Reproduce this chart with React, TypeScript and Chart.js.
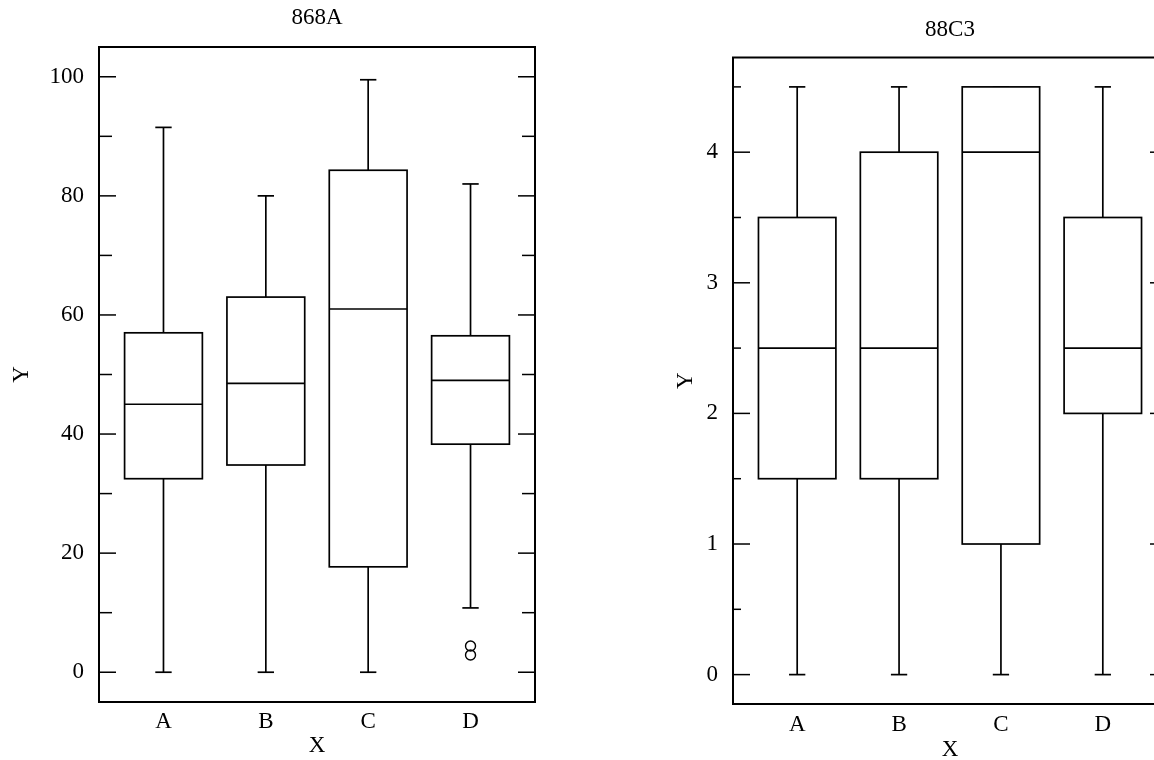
import React, { useEffect, useRef } from "react";
import { Chart, registerables } from "chart.js";

Chart.register(...registerables);

const categories = ["A", "B", "C", "D"];

// ---- Left panel: 868A ----
const title1 = "868A";
const mins1 = [0, 0, 0, 10.8];
const q1s1 = [32.5, 34.8, 17.7, 38.3];
const medians1 = [45, 48.5, 61, 49];
const q3s1 = [57, 63, 84.3, 56.5];
const maxs1 = [91.5, 80, 99.5, 82];
const outlierCats1 = ["D", "D"];
const outlierValues1 = [2.9, 4.4];
const yTicks1 = [0, 20, 40, 60, 80, 100];
const yMinor1 = [10, 30, 50, 70, 90];
const yRange1 = [-5, 105];

// ---- Right panel: 88C3 ----
const title2 = "88C3";
const mins2 = [0, 0, 0, 0];
const q1s2 = [1.5, 1.5, 1, 2];
const medians2 = [2.5, 2.5, 4, 2.5];
const q3s2 = [3.5, 4, 4.5, 3.5];
const maxs2 = [4.5, 4.5, 4.5, 4.5];
const outlierCats2: string[] = [];
const outlierValues2: number[] = [];
const yTicks2 = [0, 1, 2, 3, 4];
const yMinor2 = [0.5, 1.5, 2.5, 3.5, 4.5];
const yRange2 = [-0.225, 4.725];

const FONT = "'Liberation Serif', 'Times New Roman', serif";

type PanelCfg = {
  title: string;
  mins: number[];
  q1s: number[];
  meds: number[];
  q3s: number[];
  maxs: number[];
  outCats: string[];
  outVals: number[];
  yTicks: number[];
  yMinor: number[];
  yRange: number[];
  width: number;
  height: number;
  padTop: number;
  padRight: number;
  yAxisWidth: number;
  xAxisHeight: number;
  titleY: number;
  yTitlePad: number;
  xTitlePad: number;
  xTickPad: number;
  majorLen: number;
  minorLen: number;
};

function makePlugin(cfg: PanelCfg) {
  const boxHalf = 0.38;
  const capHalf = 0.08;
  const line = (ctx: CanvasRenderingContext2D, x1: number, y1: number, x2: number, y2: number) => {
    ctx.beginPath();
    ctx.moveTo(x1, y1);
    ctx.lineTo(x2, y2);
    ctx.stroke();
  };
  return {
    id: "boxplot",
    beforeDatasetsDraw(chart: any) {
      const { ctx } = chart;
      const x = chart.scales.x;
      const y = chart.scales.y;
      ctx.save();
      ctx.strokeStyle = "#000";
      ctx.lineWidth = 1.7;
      ctx.lineCap = "butt";
      cfg.q1s.forEach((q1, i) => {
        const cx = x.getPixelForValue(i + 1);
        const hw = x.getPixelForValue(i + 1 + boxHalf) - cx;
        const ch = x.getPixelForValue(i + 1 + capHalf) - cx;
        const pq1 = y.getPixelForValue(q1);
        const pq3 = y.getPixelForValue(cfg.q3s[i]);
        const pm = y.getPixelForValue(cfg.meds[i]);
        const pmin = y.getPixelForValue(cfg.mins[i]);
        const pmax = y.getPixelForValue(cfg.maxs[i]);
        line(ctx, cx, pq3, cx, pmax);
        line(ctx, cx - ch, pmax, cx + ch, pmax);
        line(ctx, cx, pq1, cx, pmin);
        line(ctx, cx - ch, pmin, cx + ch, pmin);
        ctx.fillStyle = "#fff";
        ctx.fillRect(cx - hw, pq3, 2 * hw, pq1 - pq3);
        ctx.strokeRect(cx - hw, pq3, 2 * hw, pq1 - pq3);
        line(ctx, cx - hw, pm, cx + hw, pm);
      });
      ctx.restore();
    },
    afterDraw(chart: any) {
      const { ctx, chartArea } = chart;
      const y = chart.scales.y;
      const { left, right, top, bottom } = chartArea;
      ctx.save();
      ctx.strokeStyle = "#000";
      ctx.lineWidth = 1.5;
      cfg.yTicks.forEach((v) => {
        const py = y.getPixelForValue(v);
        line(ctx, left, py, left + cfg.majorLen, py);
        line(ctx, right - cfg.majorLen, py, right, py);
      });
      cfg.yMinor.forEach((v) => {
        const py = y.getPixelForValue(v);
        line(ctx, left, py, left + cfg.minorLen, py);
        line(ctx, right - cfg.minorLen, py, right, py);
      });
      ctx.lineWidth = 2;
      ctx.strokeRect(left, top, right - left, bottom - top);
      ctx.fillStyle = "#000";
      ctx.font = `23px ${FONT}`;
      ctx.textAlign = "center";
      ctx.textBaseline = "middle";
      ctx.fillText(cfg.title, (left + right) / 2, cfg.titleY);
      ctx.restore();
    },
  };
}

function Panel({ cfg, left }: { cfg: PanelCfg; left: number }) {
  const ref = useRef<HTMLCanvasElement | null>(null);
  useEffect(() => {
    if (!ref.current) return;
    const font = { family: FONT, size: 23 };
    const chart = new Chart(ref.current, {
      type: "scatter",
      data: {
        datasets: [
          {
            data: cfg.outVals.map((v, i) => ({ x: categories.indexOf(cfg.outCats[i]) + 1, y: v })),
            pointStyle: "circle",
            pointRadius: 5,
            borderColor: "#000",
            borderWidth: 1.4,
            backgroundColor: "rgba(0,0,0,0)",
          },
        ],
      },
      options: {
        responsive: false,
        animation: false,
        events: [],
        layout: { padding: { top: cfg.padTop, right: cfg.padRight, left: 0, bottom: 0 } },
        plugins: { legend: { display: false }, tooltip: { enabled: false }, title: { display: false } },
        scales: {
          x: {
            type: "linear",
            min: 0.37,
            max: 4.63,
            afterBuildTicks: (s: any) => {
              s.ticks = categories.map((_, i) => ({ value: i + 1 }));
            },
            afterFit: (s: any) => {
              s.height = cfg.xAxisHeight;
            },
            ticks: {
              callback: (v: any) => categories[Number(v) - 1] ?? "",
              font,
              color: "#000",
              padding: cfg.xTickPad,
              autoSkip: false,
              maxRotation: 0,
            },
            grid: { display: false, drawTicks: false },
            border: { display: false },
            title: {
              display: true,
              text: "X",
              color: "#000",
              font: { family: FONT, size: 23, lineHeight: 1 },
              padding: { top: 0, bottom: cfg.xTitlePad },
            },
          },
          y: {
            type: "linear",
            min: cfg.yRange[0],
            max: cfg.yRange[1],
            afterBuildTicks: (s: any) => {
              s.ticks = cfg.yTicks.map((v) => ({ value: v }));
            },
            afterFit: (s: any) => {
              s.width = cfg.yAxisWidth;
            },
            ticks: { font, color: "#000", padding: 15 },
            grid: { display: false, drawTicks: false },
            border: { display: false },
            title: {
              display: true,
              text: "Y",
              color: "#000",
              font: { family: FONT, size: 23, lineHeight: 1 },
              padding: { top: cfg.yTitlePad, bottom: 0 },
            },
          },
        },
      },
      plugins: [makePlugin(cfg)],
    } as any);
    return () => chart.destroy();
  }, [cfg]);
  return (
    <canvas
      ref={ref}
      width={cfg.width}
      height={cfg.height}
      style={{ position: "absolute", left, top: 0, width: cfg.width, height: cfg.height }}
    />
  );
}

const cfg1: PanelCfg = {
  title: title1,
  mins: mins1,
  q1s: q1s1,
  meds: medians1,
  q3s: q3s1,
  maxs: maxs1,
  outCats: outlierCats1,
  outVals: outlierValues1,
  yTicks: yTicks1,
  yMinor: yMinor1,
  yRange: yRange1,
  width: 560,
  height: 760,
  padTop: 47,
  padRight: 25,
  yAxisWidth: 99,
  xAxisHeight: 58,
  titleY: 18,
  yTitlePad: 10,
  xTitlePad: 3,
  xTickPad: 6,
  majorLen: 17,
  minorLen: 13,
};

const cfg2: PanelCfg = {
  title: title2,
  mins: mins2,
  q1s: q1s2,
  meds: medians2,
  q3s: q3s2,
  maxs: maxs2,
  outCats: outlierCats2,
  outVals: outlierValues2,
  yTicks: yTicks2,
  yMinor: yMinor2,
  yRange: yRange2,
  width: 612,
  height: 760,
  padTop: 57.5,
  padRight: 25,
  yAxisWidth: 153,
  xAxisHeight: 56,
  titleY: 30,
  yTitlePad: 94,
  xTitlePad: -1,
  xTickPad: 7,
  majorLen: 17,
  minorLen: 8,
};

export default function App() {
  return (
    <div
      style={{
        position: "fixed",
        left: 0,
        top: 0,
        width: 1154,
        height: 760,
        overflow: "hidden",
        background: "#fff",
      }}
    >
      <Panel cfg={cfg1} left={0} />
      <Panel cfg={cfg2} left={580} />
    </div>
  );
}
